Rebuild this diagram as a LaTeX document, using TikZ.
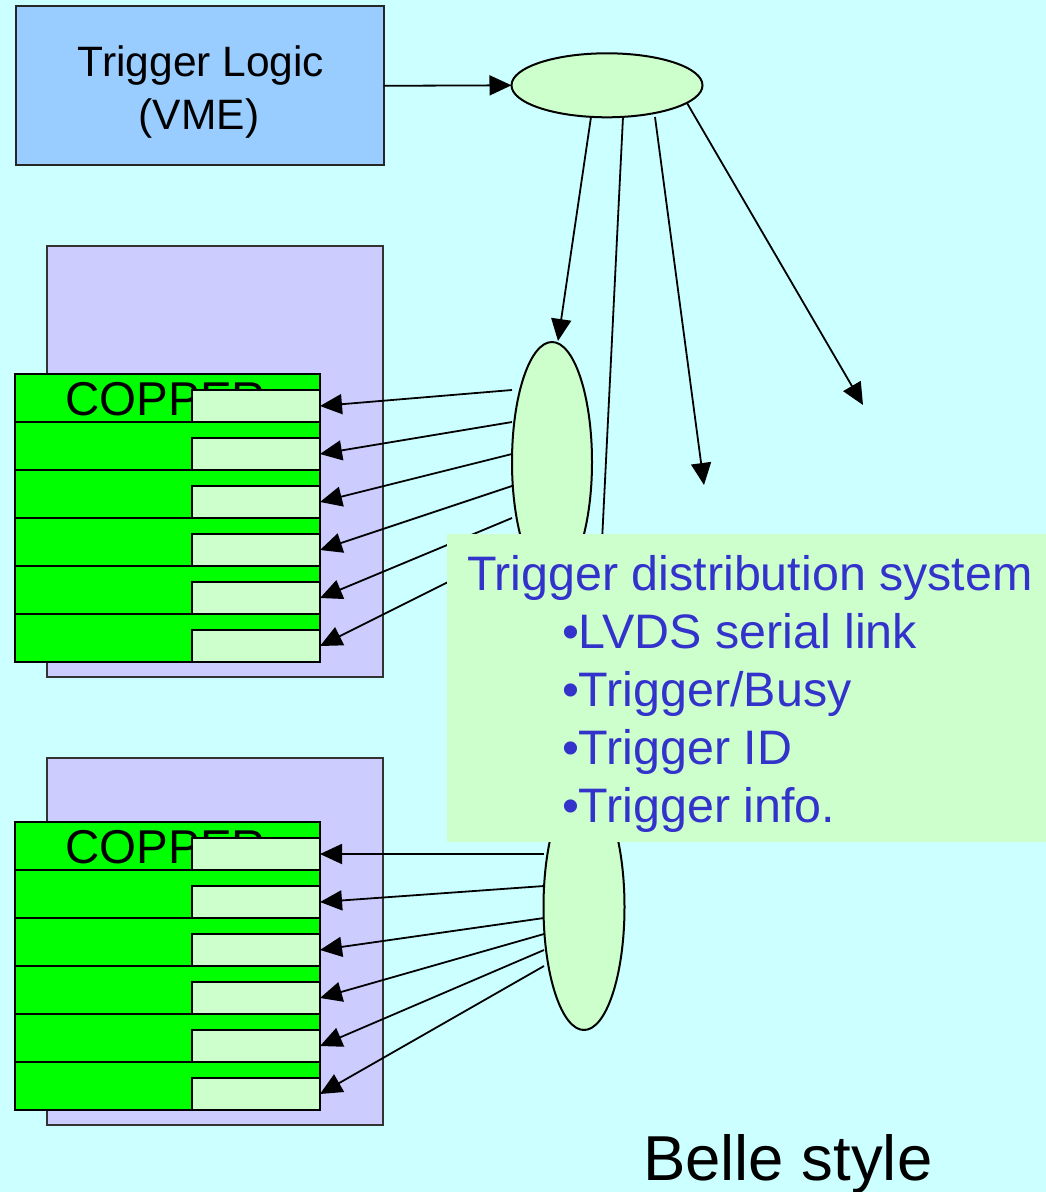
\documentclass[tikz,border=0pt]{standalone}
\usepackage{fontspec}
\setmainfont{Liberation Sans}
\usetikzlibrary{shapes.geometric,arrows.meta}
\definecolor{bgc}{HTML}{CCFFFF}
\definecolor{vmeblue}{HTML}{99CCFF}
\definecolor{crate}{HTML}{CCCCFF}
\definecolor{palegreen}{HTML}{CCFFCC}
\definecolor{copgreen}{HTML}{00FF00}
\definecolor{txtblue}{HTML}{3333CC}
\begin{document}
\begin{tikzpicture}[x=1pt,y=-1pt,
  conn/.style={draw=black,line width=1.8pt,-{Triangle[length=22pt,width=20pt]}},
  vmebox/.style={draw=black!85,line width=2pt,fill=vmeblue,inner sep=0pt,outer sep=0pt,minimum width=368pt,minimum height=159pt},
  cratebox/.style={draw=black!80,line width=2pt,fill=crate,inner sep=0pt,outer sep=0pt},
  rowbox/.style={draw=black,line width=2.4pt,fill=copgreen,inner sep=0pt,outer sep=0pt,minimum width=305pt,minimum height=48pt},
  subbox/.style={draw=black,line width=2.2pt,fill=palegreen,inner sep=0pt,outer sep=0pt,minimum width=128pt,minimum height=32pt},
  fanout/.style={ellipse,draw=black,line width=2pt,fill=palegreen,inner sep=0pt,outer sep=0pt},
  lbl/.style={inner sep=0pt,outer sep=0pt,anchor=base},
  infotxt/.style={inner sep=0pt,outer sep=0pt,anchor=base west,text=txtblue,font=\fontsize{48.4}{58}\selectfont}
]
\fill[bgc] (0,0) rectangle (1046,1192);
\useasboundingbox (0,0) rectangle (1046,1192);

% Trigger logic
\node[vmebox] (tl) at (199.5,85.8) {};
\node[lbl,font=\fontsize{42.5}{53}\selectfont] (tla) at (201,76) {Trigger Logic};
\node[lbl,font=\fontsize{42.5}{53}\selectfont] (tlb) at (199,129) {(VME)};

% top fan-out ellipse
\node[fanout,minimum width=191pt,minimum height=64pt] (e1) at (607,85.3) {};
\draw[conn] (tl.east) -- (e1.west);

% second-level ellipses
\node[fanout,minimum width=80pt,minimum height=240pt] (e2) at (552,462) {};
\node[fanout,minimum width=81pt,minimum height=246pt] (e3) at (584,907) {};

\coordinate (t1) at (591,117);
\coordinate (t2) at (623,117);
\coordinate (t3) at (655,117);
\coordinate (t4) at (687,103);
\coordinate (e2t) at (558,341);
\coordinate (e3t) at (590,784);
\coordinate (f3) at (704,485);
\coordinate (f4) at (863,405);
\draw[conn] (t1) -- (e2t);
\draw[conn] (t2) -- (e3t);
\draw[conn] (t3) -- (f3);
\draw[conn] (t4) -- (f4);

% crates
\node[cratebox,minimum width=336pt,minimum height=431pt] (c1) at (215.3,461.7) {};
\node[cratebox,minimum width=336pt,minimum height=367pt] (c2) at (215.3,941.3) {};

% upper COPPER stack
\foreach \i in {0,...,5} {
  \node[rowbox] (ua\i) at (167.5,{398+48*\i}) {};
}
\node[lbl,font=\fontsize{47.5}{55}\selectfont] (cop1) at (166,415) {COPPER};
\foreach \i in {0,...,5} {
  \node[subbox] (ub\i) at (256,{406+48*\i}) {};
  \coordinate (us\i) at (512,{390+32*\i});
  \draw[conn] (us\i) -- (ub\i.east);
}

% lower COPPER stack
\foreach \i in {0,...,5} {
  \node[rowbox] (la\i) at (167.5,{846+48*\i}) {};
}
\node[lbl,font=\fontsize{47.5}{55}\selectfont] (cop2) at (166,863) {COPPER};
\foreach \i/\y in {0/854,1/886,2/918,3/934,4/950,5/966} {
  \node[subbox] (lb\i) at (256,{854+48*\i}) {};
  \coordinate (ls\i) at (544,\y);
  \draw[conn] (ls\i) -- (lb\i.east);
}

% info box
\fill[palegreen] (447,534) rectangle (1046,842);
\node[infotxt] (i0) at (467,590) {Trigger distribution system};
\node[infotxt] (i1) at (562,648) {•LVDS serial link};
\node[infotxt] (i2) at (562,706) {•Trigger/Busy};
\node[infotxt] (i3) at (562,764) {•Trigger ID};
\node[infotxt] (i4) at (562,822) {•Trigger info.};

\node[inner sep=0pt,outer sep=0pt,anchor=base west,font=\fontsize{63.5}{70}\selectfont] (belle) at (643,1180.5) {Belle style};
\end{tikzpicture}
\end{document}
